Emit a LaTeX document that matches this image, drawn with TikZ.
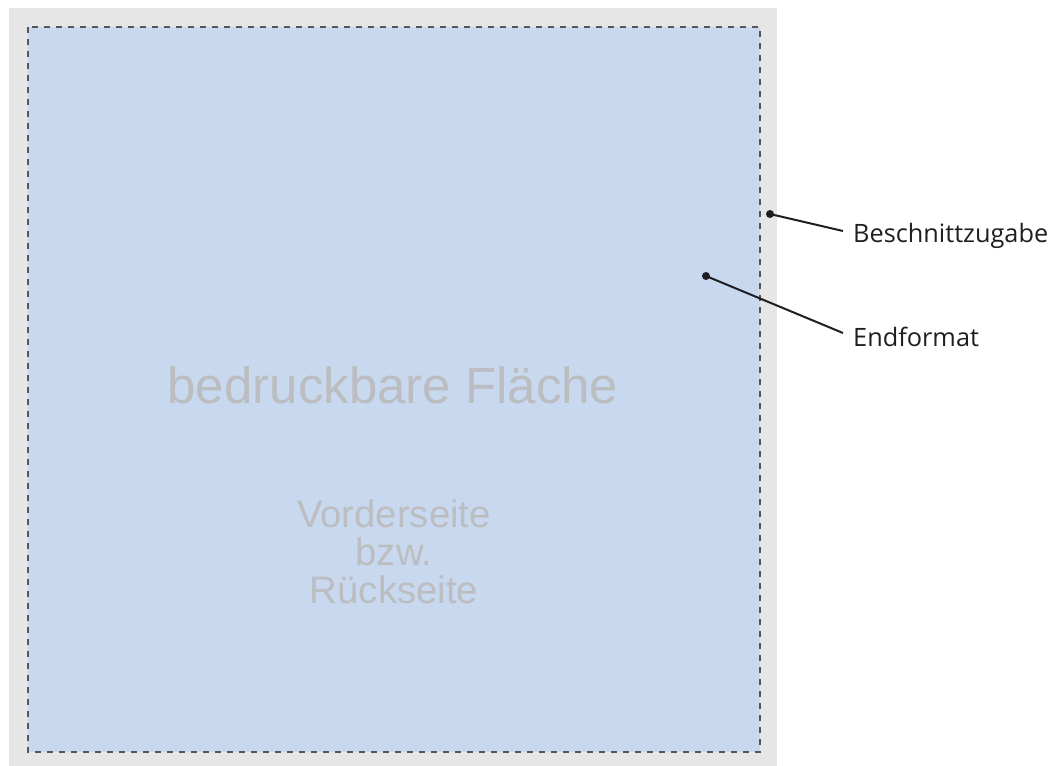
\documentclass[tikz,border=0pt]{standalone}
\usepackage{fontspec}
\newfontfamily\arialf{Liberation Sans}
\newfontfamily\labelf{Open Sans}
\definecolor{bleed}{RGB}{230,230,231}
\definecolor{paper}{RGB}{200,216,238}
\definecolor{ghost}{RGB}{188,189,192}
\definecolor{dashc}{RGB}{85,85,90}
\definecolor{ink}{RGB}{30,30,35}
\begin{document}
\begin{tikzpicture}[x=1pt,y=-1pt,
  dot/.style={circle,fill=ink,inner sep=0pt,minimum size=8pt},
  leader/.style={draw=ink,line width=2pt},
  lbl/.style={inner sep=0pt,font=\labelf\fontsize{25.3}{30}\selectfont,text=ink},
  ghosttext/.style={inner sep=0pt,text=ghost,align=center}]
\useasboundingbox (0,0) rectangle (1053,766);
\fill[bleed] (9,8) rectangle (777,766);
\fill[paper] (28,27) rectangle (760,752);
\draw[dashc,line width=1.1pt,dash pattern=on 6pt off 6pt] (28,27) rectangle (760,752);
\node[ghosttext,anchor=base,font=\arialf\fontsize{51}{51}\selectfont] (main) at (393,403) {bedruckbare Fläche};
\node[ghosttext,anchor=base,font=\arialf\fontsize{38.3}{38}\selectfont] (side) at (394,603) {Vorderseite\\bzw.\\Rückseite};
\node[dot] (d1) at (770,214) {};
\node[dot] (d2) at (706,276) {};
\node[lbl,anchor=base west] (l1) at (853,242) {Beschnittzugabe};
\node[lbl,anchor=base west] (l2) at (853,346) {Endformat};
\coordinate (e1) at (843,231);
\coordinate (e2) at (843,333);
\draw[leader] (d1.center) -- (e1);
\draw[leader] (d2.center) -- (e2);
\end{tikzpicture}
\end{document}
